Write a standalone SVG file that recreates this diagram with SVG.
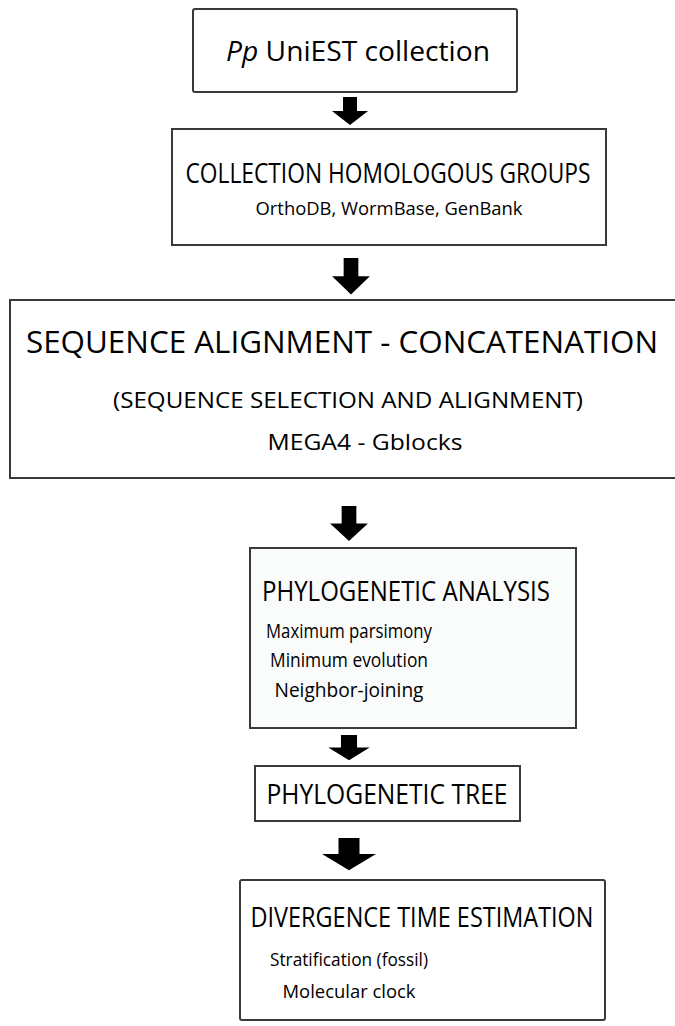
<svg xmlns="http://www.w3.org/2000/svg" width="675" height="1026" viewBox="0 0 675 1026">
<defs>
<style>
.box{fill:#ffffff;stroke:#3a3a3a;stroke-width:2}
.t{font-family:"Open Sans","Noto Sans",sans-serif;fill:#000000;text-anchor:middle}
.arr{fill:#000000}
</style>
<path id="a" d="M-7,0 H7 V14 H18 L0,28 L-18,14 H-7 Z"/>
</defs>
<rect width="675" height="1026" fill="#ffffff"/>
<g id="connectors">
<use href="#a" class="arr" transform="translate(350,97)"/>
<use href="#a" class="arr" transform="translate(351,258) scale(1.05,1.3)"/>
<use href="#a" class="arr" transform="translate(349,506) scale(1.05,1.25)"/>
<use href="#a" class="arr" transform="translate(349,735) scale(1.15,0.9)"/>
<use href="#a" class="arr" transform="translate(349,838) scale(1.5,1.15)"/>
</g>
<g id="n1">
<rect class="box" x="193" y="9" width="324" height="83" rx="2"/>
<text class="t" x="358" y="61" font-size="27" textLength="264" lengthAdjust="spacingAndGlyphs"><tspan font-style="italic">Pp</tspan> UniEST collection</text>
</g>
<g id="n2">
<rect class="box" x="172" y="129" width="434" height="116"/>
<text class="t" x="388" y="183" font-size="27" textLength="405" lengthAdjust="spacingAndGlyphs">COLLECTION HOMOLOGOUS GROUPS</text>
<text class="t" x="389" y="215" font-size="19" textLength="267" lengthAdjust="spacingAndGlyphs">OrthoDB, WormBase, GenBank</text>
</g>
<g id="n3">
<rect class="box" x="10" y="300" width="666" height="178"/>
<text class="t" x="342" y="353" font-size="31" textLength="632" lengthAdjust="spacingAndGlyphs">SEQUENCE ALIGNMENT - CONCATENATION</text>
<text class="t" x="348" y="408" font-size="21" textLength="470" lengthAdjust="spacingAndGlyphs">(SEQUENCE SELECTION AND ALIGNMENT)</text>
<text class="t" x="365" y="450" font-size="21" textLength="195" lengthAdjust="spacingAndGlyphs">MEGA4 - Gblocks</text>
</g>
<g id="n4">
<rect class="box" x="250" y="548" width="326" height="180" style="fill:#fafbfb"/>
<text class="t" x="406" y="601" font-size="27" textLength="288" lengthAdjust="spacingAndGlyphs">PHYLOGENETIC ANALYSIS</text>
<text class="t" x="349" y="638" font-size="20" textLength="166" lengthAdjust="spacingAndGlyphs">Maximum parsimony</text>
<text class="t" x="349" y="667" font-size="20" textLength="158" lengthAdjust="spacingAndGlyphs">Minimum evolution</text>
<text class="t" x="349" y="697" font-size="20" textLength="149" lengthAdjust="spacingAndGlyphs">Neighbor-joining</text>
</g>
<g id="n5">
<rect class="box" x="255" y="766" width="265" height="55"/>
<text class="t" x="387" y="804" font-size="27" textLength="241" lengthAdjust="spacingAndGlyphs">PHYLOGENETIC TREE</text>
</g>
<g id="n6">
<rect class="box" x="240" y="880" width="365" height="140" rx="2"/>
<text class="t" x="422" y="927" font-size="27" textLength="343" lengthAdjust="spacingAndGlyphs">DIVERGENCE TIME ESTIMATION</text>
<text class="t" x="349" y="966" font-size="19" textLength="158" lengthAdjust="spacingAndGlyphs">Stratification (fossil)</text>
<text class="t" x="349" y="998" font-size="19" textLength="133" lengthAdjust="spacingAndGlyphs">Molecular clock</text>
</g>
</svg>
